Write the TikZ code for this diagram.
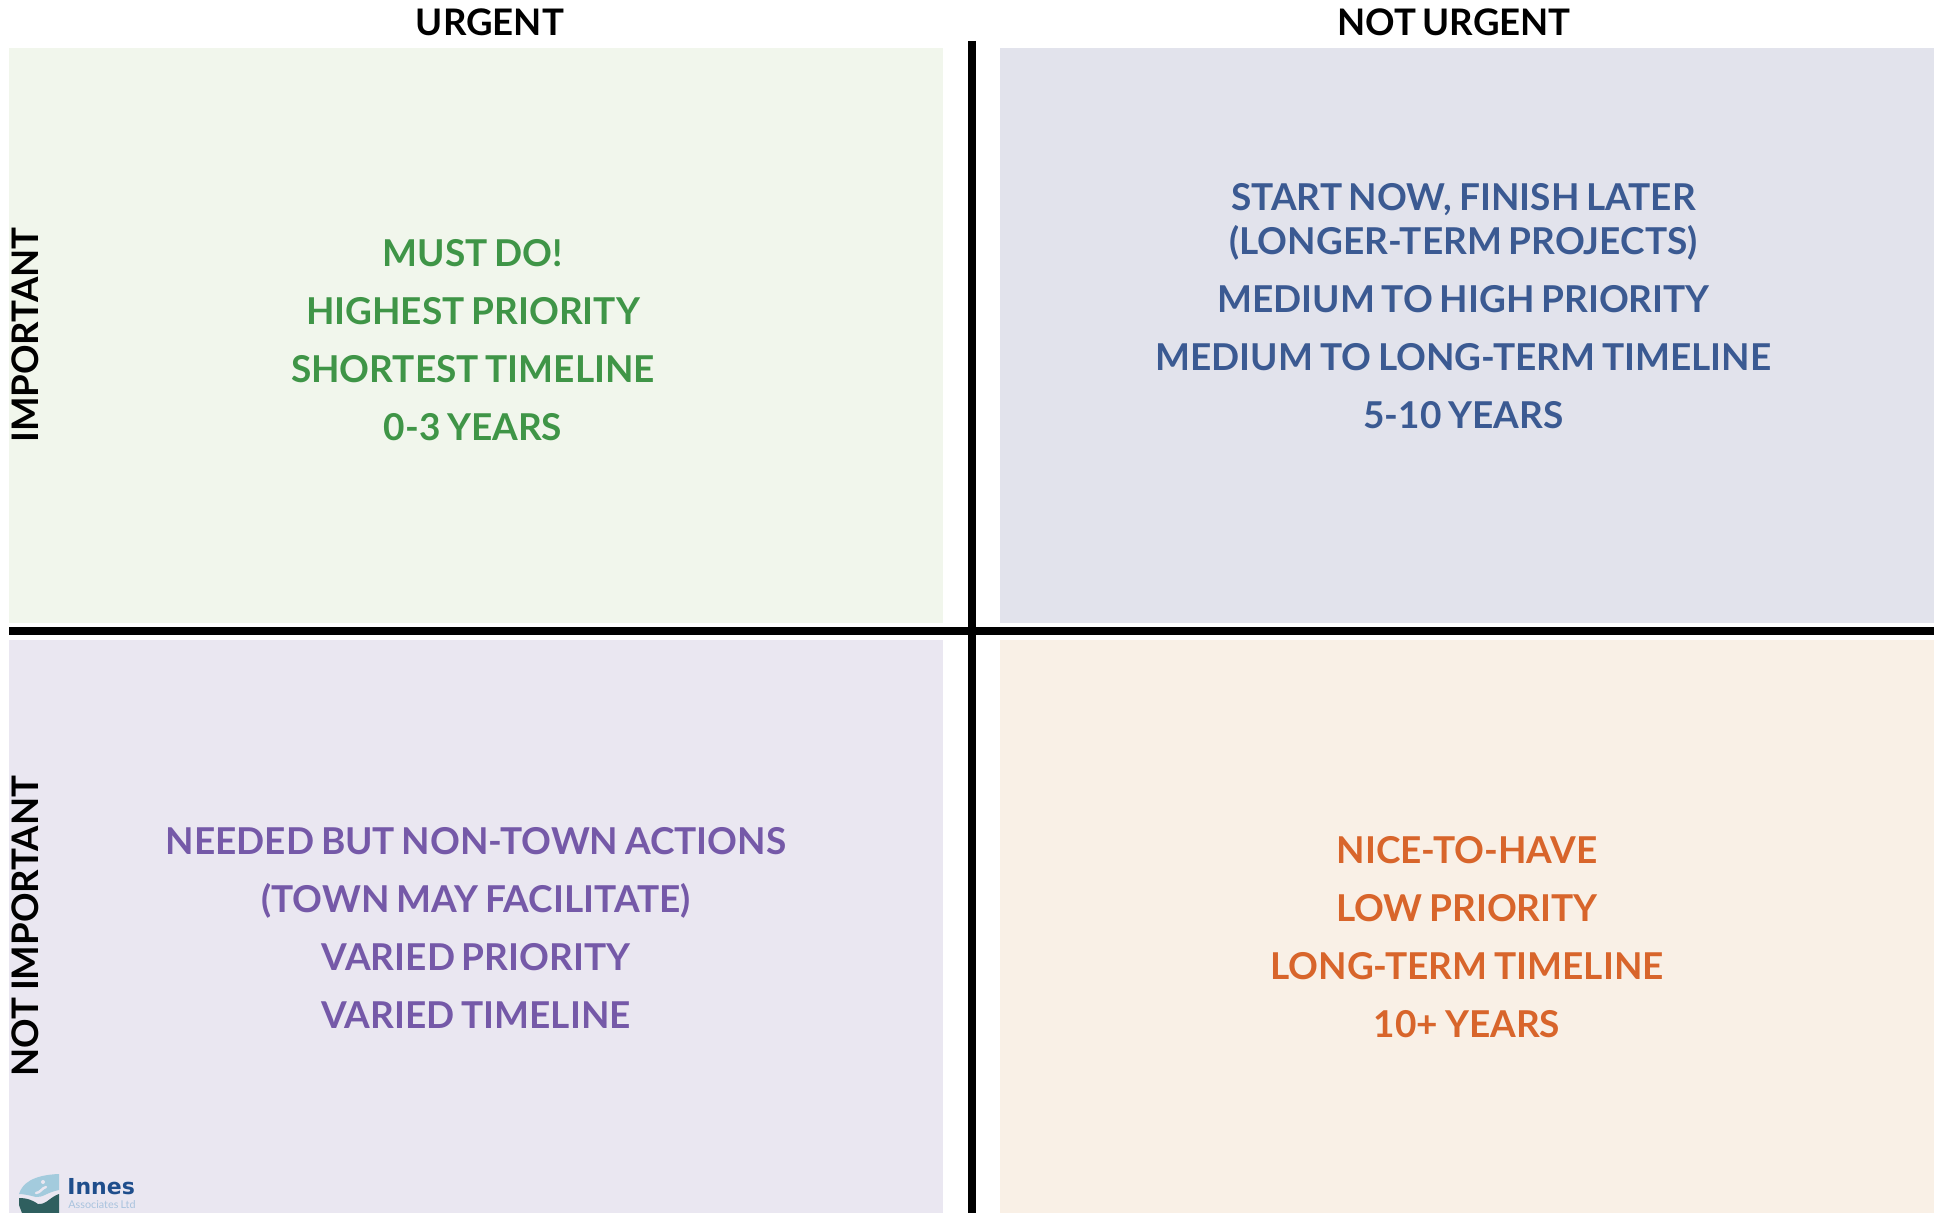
\documentclass[tikz,border=0pt]{standalone}
\usepackage{xcolor}
\usepackage{fontspec}
\setmainfont[WordSpace=0.75]{Lato}
\newfontfamily\logofont{DejaVu Sans}
\usepackage{tikz}
\definecolor{greenbox}{HTML}{F1F6EC}
\definecolor{bluebox}{HTML}{E2E3EC}
\definecolor{purplebox}{HTML}{EAE7F1}
\definecolor{orangebox}{HTML}{F9F0E6}
\definecolor{greentext}{HTML}{3F9547}
\definecolor{bluetext}{HTML}{3B5A92}
\definecolor{purpletext}{HTML}{7559A8}
\definecolor{orangetext}{HTML}{D8652B}
\definecolor{logoblue}{HTML}{A3CBDD}
\definecolor{logodark}{HTML}{2F5F5F}
\definecolor{logotext}{HTML}{1F4E8C}
\definecolor{logosub}{HTML}{A9C3DE}
\tikzstyle{rec} = [rectangle,minimum width=467pt,inner sep=0pt,text centered]
\tikzstyle{txt} = [align=center,inner sep=0pt,font=\fontsize{18.5}{29}\selectfont\bfseries]
\tikzstyle{axis} = [inner sep=0pt,font=\fontsize{18.3}{22}\selectfont\bfseries,text=black]
\tikzstyle{bar} = [line width=4pt,black]
\begin{document}
\begin{tikzpicture}[x=0.5pt,y=-0.5pt]
        \useasboundingbox (0,0) rectangle (1934,1213);
        % quadrants
        \node (greenq) [rec, fill=greenbox, minimum height=287.5pt] at (476,335.5) {};
        \node (blueq) [rec, fill=bluebox, minimum height=287.5pt] at (1467,335.5) {};
        \node (purpleq) [rec, fill=purplebox, minimum height=286.5pt] at (476,926.5) {};
        \node (orangeq) [rec, fill=orangebox, minimum height=286.5pt] at (1467,926.5) {};
        % axes
        \coordinate (vtop) at (971.5,41);
        \coordinate (vbot) at (971.5,1213);
        \coordinate (hleft) at (9,631);
        \coordinate (hright) at (1934,631);
        \draw [bar] (vtop) -- (vbot);
        \draw [bar] (hleft) -- (hright);
        % labels
        \node (urgent) [axis] at (490,22) {URGENT};
        \node (noturgent) [axis] at (1454,22) {NOT URGENT};
        \node (important) [axis, rotate=90] at (25,335) {IMPORTANT};
        \node (notimportant) [axis, rotate=90] at (25,926) {NOT IMPORTANT};
        % texts
        \node (musttext) [txt, text=greentext] at (473,340) {MUST DO!\\HIGHEST PRIORITY\\SHORTEST TIMELINE\\0-3 YEARS};
        \node (starttext) [txt, text=bluetext] at (1463.5,306.5) {START NOW, FINISH LATER\\[-7pt](LONGER-TERM PROJECTS)\\MEDIUM TO HIGH PRIORITY\\MEDIUM TO LONG-TERM TIMELINE\\5-10 YEARS};
        \node (neededtext) [txt, text=purpletext] at (476,928) {NEEDED BUT NON-TOWN ACTIONS\\(TOWN MAY FACILITATE)\\VARIED PRIORITY\\VARIED TIMELINE};
        \node (nicetext) [txt, text=orangetext] at (1467,937) {NICE-TO-HAVE\\LOW PRIORITY\\LONG-TERM TIMELINE\\10+ YEARS};
        % logo
        \fill [logoblue] (19,1194) .. controls (22,1184) and (32,1175) .. (59,1174) -- (59,1190) .. controls (48,1192) and (42,1198) .. (36,1197) .. controls (30,1195.5) and (24,1194) .. (19,1194) -- cycle;
        \fill [logodark] (19,1198) .. controls (28,1198) and (34,1201) .. (38,1204) .. controls (46,1205) and (50,1197) .. (59,1194) -- (59,1213) -- (22,1213) -- (19,1205) -- cycle;
        \fill [purplebox] (43,1182) circle (2);
        \draw [purplebox, line width=1.2pt, line cap=round] (36,1193) .. controls (40,1193) and (42,1188) .. (46,1187);
        \node (innes) [inner sep=0pt, anchor=west, text=logotext, font=\logofont\fontsize{11}{12}\selectfont\bfseries] at (67,1187) {Innes};
        \node (associates) [inner sep=0pt, anchor=west, text=logosub, font=\fontsize{5.4}{6}\selectfont] at (68,1204.5) {Associates Ltd};
    \end{tikzpicture}
\end{document}
